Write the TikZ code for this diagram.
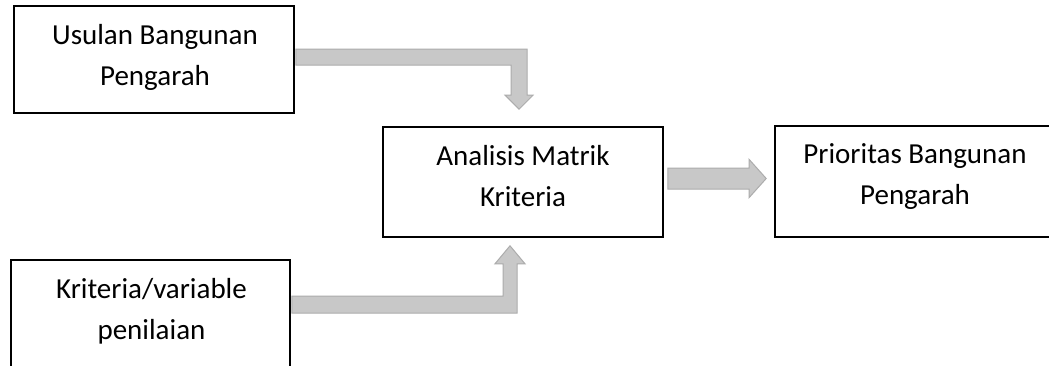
\documentclass[tikz,border=0pt]{standalone}
\usepackage{fontspec}
\setmainfont{Carlito}
\usetikzlibrary{calc}
\definecolor{arrfill}{RGB}{200,200,200}
\definecolor{arrline}{RGB}{172,172,172}
\tikzset{
  box/.style={draw=black, line width=1.6pt, fill=white, inner sep=0pt},
  txt/.style={align=center, inner sep=0pt, anchor=north,
    font=\fontsize{29pt}{41pt}\selectfont},
  barrow/.style={fill=arrfill, draw=arrline, line width=1pt, line join=miter}
}
\begin{document}
\begin{tikzpicture}[x=1pt,y=-1pt]
\clip (0,0) rectangle (1049,365);
\fill[white] (0,0) rectangle (1049,365);
\node[box, minimum width=280pt, minimum height=107pt] (u) at (154,59.5) {};
\node[box, minimum width=279pt, minimum height=107pt] (k) at (150.5,313.5) {};
\node[box, minimum width=280pt, minimum height=110pt] (a) at (523,182) {};
\node[box, minimum width=280pt, minimum height=111pt] (p) at (915,181.5) {};
\node[txt] (ut) at ($(u.north)+(1,10.3)$) {\strut Usulan Bangunan\\\strut Pengarah};
\node[txt] (kt) at ($(k.north)+(1,10.3)$) {\strut Kriteria/variable\\\strut penilaian};
\node[txt] (at) at ($(a.north)+(0,10.3)$) {\strut Analisis Matrik\\\strut Kriteria};
\node[txt] (pt) at ($(p.north)+(0,9)$) {\strut Prioritas Bangunan\\\strut Pengarah};
% top block arrow
\draw[barrow] let \p1=(u.east), \p2=(a.north) in
  (\x1+1pt,\y1+10.5pt) -- (\x2+4pt,\y1+10.5pt) -- (\x2+4pt,\y2+31pt) -- (\x2+10pt,\y2+31pt)
  -- (\x2-4pt,\y2+17pt) -- (\x2-18pt,\y2+31pt) -- (\x2-12pt,\y2+31pt)
  -- (\x2-12pt,\y1-5.5pt) -- (\x1+1pt,\y1-5.5pt) -- cycle;
% bottom block arrow
\draw[barrow] let \p1=(k.east), \p2=(a.south) in
  (\x1+1pt,\y1+0.5pt) -- (\x2-6pt,\y1+0.5pt) -- (\x2-6pt,\y2-26pt) -- (\x2+2pt,\y2-26pt)
  -- (\x2-13pt,\y2-8pt) -- (\x2-28pt,\y2-26pt) -- (\x2-20pt,\y2-26pt)
  -- (\x2-20pt,\y1+17.5pt) -- (\x1+1pt,\y1+17.5pt) -- cycle;
% right block arrow
\draw[barrow] let \p1=(a.east), \p2=(p.west) in
  (\x1+4pt,\y1+14pt) -- (\x2-25pt,\y1+14pt) -- (\x2-25pt,\y1+22.5pt) -- (\x2-8pt,\y1+3.5pt)
  -- (\x2-25pt,\y1-15.5pt) -- (\x2-25pt,\y1-7pt) -- (\x1+4pt,\y1-7pt) -- cycle;
\end{tikzpicture}
\end{document}
